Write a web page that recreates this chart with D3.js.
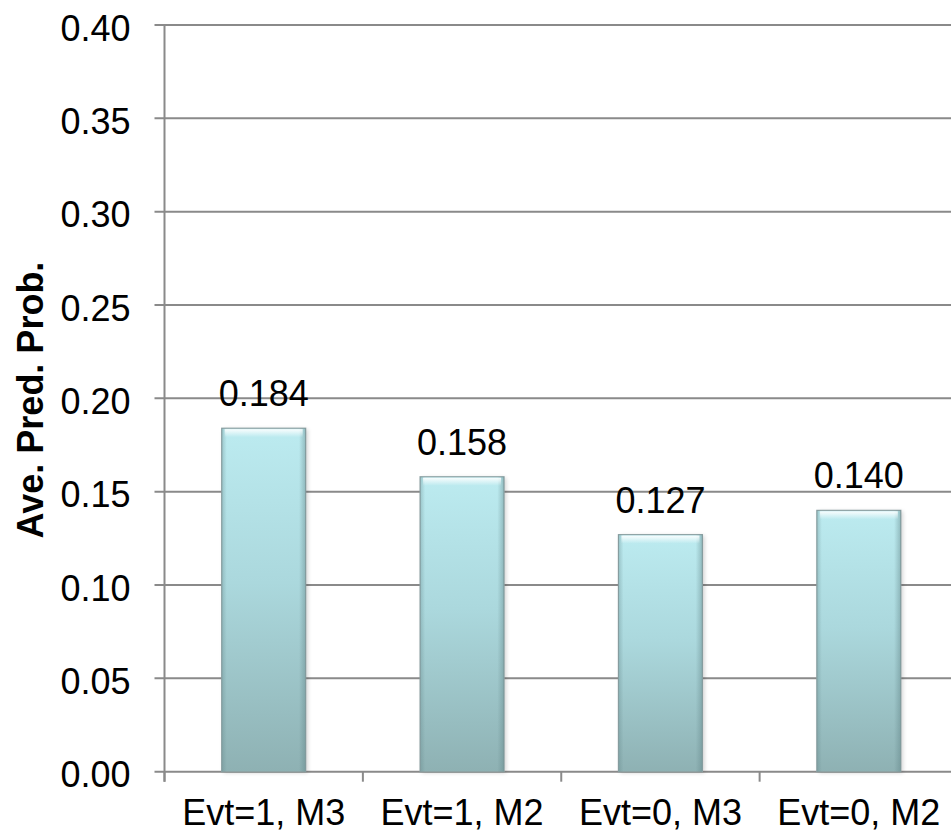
<!DOCTYPE html>
<html>
<head>
<meta charset="utf-8">
<script src="https://cdn.jsdelivr.net/npm/d3@7"></script>
<style>
  html, body { margin: 0; padding: 0; background: #fff; }
  svg { display: block; font-family: "Liberation Sans", Arial, sans-serif; }
</style>
</head>
<body>
<svg id="chart" width="951" height="832"></svg>
<script>
const categories = ["Evt=1, M3", "Evt=1, M2", "Evt=0, M3", "Evt=0, M2"];
const values = [0.184, 0.158, 0.127, 0.140];
const valueLabels = ["0.184", "0.158", "0.127", "0.140"];
const yTicks = [0, 0.05, 0.10, 0.15, 0.20, 0.25, 0.30, 0.35, 0.40];
const yTitle = "Ave. Pred. Prob.";

const svg = d3.select("#chart");
const x0 = 164.5, x1 = 958;
const yBottom = 771.7, yTop = 25;

const x = d3.scaleBand().domain(categories).range([x0, x1])
  .paddingInner(0.5766).paddingOuter(0.2883);
const y = d3.scaleLinear().domain([0, 0.4]).range([yBottom, yTop]);

const defs = svg.append("defs");
const g1 = defs.append("linearGradient").attr("id", "barFill")
  .attr("x1", 0).attr("y1", 0).attr("x2", 0).attr("y2", 1);
g1.append("stop").attr("offset", "0%").attr("stop-color", "#bcebf0");
g1.append("stop").attr("offset", "45%").attr("stop-color", "#abd8dd");
g1.append("stop").attr("offset", "100%").attr("stop-color", "#8eb1b3");

const g2 = defs.append("linearGradient").attr("id", "sideShade")
  .attr("x1", 0).attr("y1", 0).attr("x2", 1).attr("y2", 0);
g2.append("stop").attr("offset", "0%").attr("stop-color", "#5f8285").attr("stop-opacity", 0.35);
g2.append("stop").attr("offset", "6%").attr("stop-color", "#5f8285").attr("stop-opacity", 0.0);
g2.append("stop").attr("offset", "92%").attr("stop-color", "#5f8285").attr("stop-opacity", 0.0);
g2.append("stop").attr("offset", "100%").attr("stop-color", "#5f8285").attr("stop-opacity", 0.45);

const g3 = defs.append("linearGradient").attr("id", "topHi")
  .attr("x1", 0).attr("y1", 0).attr("x2", 0).attr("y2", 1);
g3.append("stop").attr("offset", "0%").attr("stop-color", "#ffffff").attr("stop-opacity", 0.9);
g3.append("stop").attr("offset", "100%").attr("stop-color", "#ffffff").attr("stop-opacity", 0.0);

const blur = defs.append("filter").attr("id", "shadow").attr("x", "-20%").attr("y", "-5%").attr("width", "140%").attr("height", "110%");
blur.append("feGaussianBlur").attr("stdDeviation", 2);

// Gridlines
const yAxis = d3.axisLeft(y).tickValues(yTicks).tickSize(0).tickFormat(d3.format(".2f"));
svg.append("g").attr("class", "grid")
  .selectAll("line").data(yTicks).join("line")
  .attr("x1", x0 - 10).attr("x2", 951)
  .attr("y1", d => y(d)).attr("y2", d => y(d))
  .attr("stroke", "#8a8a8a").attr("stroke-width", 2);

// Y axis labels
const gy = svg.append("g").attr("transform", `translate(${x0},0)`).call(yAxis);
gy.select(".domain").remove();
gy.selectAll("text")
  .attr("x", -34).attr("dy", "0.42em")
  .attr("font-size", 36).attr("fill", "#000")
  .attr("font-family", "Liberation Sans, Arial, sans-serif");

// Bars
const bars = svg.append("g");
const bw = x.bandwidth();
bars.selectAll("rect.sh").data(values).join("rect").attr("class", "sh")
  .attr("x", (d, i) => x(categories[i]) + 2)
  .attr("y", d => y(d) + 1)
  .attr("width", bw)
  .attr("height", d => yBottom - y(d))
  .attr("fill", "#000").attr("opacity", 0.18).attr("filter", "url(#shadow)");
bars.selectAll("rect.b").data(values).join("rect").attr("class", "b")
  .attr("x", (d, i) => x(categories[i]))
  .attr("y", d => y(d))
  .attr("width", bw)
  .attr("height", d => yBottom - y(d))
  .attr("fill", "url(#barFill)")
  .attr("stroke", "#8fa3a5").attr("stroke-width", 1.2);
bars.selectAll("rect.s").data(values).join("rect").attr("class", "s")
  .attr("x", (d, i) => x(categories[i]))
  .attr("y", d => y(d))
  .attr("width", bw)
  .attr("height", d => yBottom - y(d))
  .attr("fill", "url(#sideShade)");
bars.selectAll("rect.h").data(values).join("rect").attr("class", "h")
  .attr("x", (d, i) => x(categories[i]) + 3)
  .attr("y", d => y(d) + 1)
  .attr("width", bw - 6)
  .attr("height", 8)
  .attr("fill", "url(#topHi)");

// Value labels
svg.append("g").selectAll("text").data(values).join("text")
  .attr("x", (d, i) => x(categories[i]) + bw / 2)
  .attr("y", d => y(d) - 22)
  .attr("text-anchor", "middle")
  .attr("font-size", 36).attr("fill", "#000")
  .text((d, i) => valueLabels[i]);

// Axis line
svg.append("line").attr("x1", x0).attr("x2", x0).attr("y1", y(0.4)).attr("y2", yBottom + 10)
  .attr("stroke", "#8a8a8a").attr("stroke-width", 2);

const xAxis = d3.axisBottom(x).tickSize(0).tickPadding(0);
const gx = svg.append("g").attr("transform", `translate(0,${yBottom})`).call(xAxis);
gx.select(".domain").remove();
gx.selectAll("text").attr("y", 53).attr("dy", 0)
  .attr("font-size", 36).attr("fill", "#000")
  .attr("font-family", "Liberation Sans, Arial, sans-serif");

// category boundary ticks
const step = x.step();
const boundaries = d3.range(categories.length + 1).map(i => x0 + i * step);
svg.append("g").selectAll("line").data(boundaries).join("line")
  .attr("x1", d => d).attr("x2", d => d)
  .attr("y1", yBottom).attr("y2", yBottom + 10)
  .attr("stroke", "#8a8a8a").attr("stroke-width", 2);

// Y title
svg.append("text")
  .attr("transform", "translate(43,400) rotate(-90)")
  .attr("text-anchor", "middle")
  .attr("font-size", 36).attr("font-weight", "bold").attr("fill", "#000")
  .text(yTitle);
</script>
</body>
</html>
